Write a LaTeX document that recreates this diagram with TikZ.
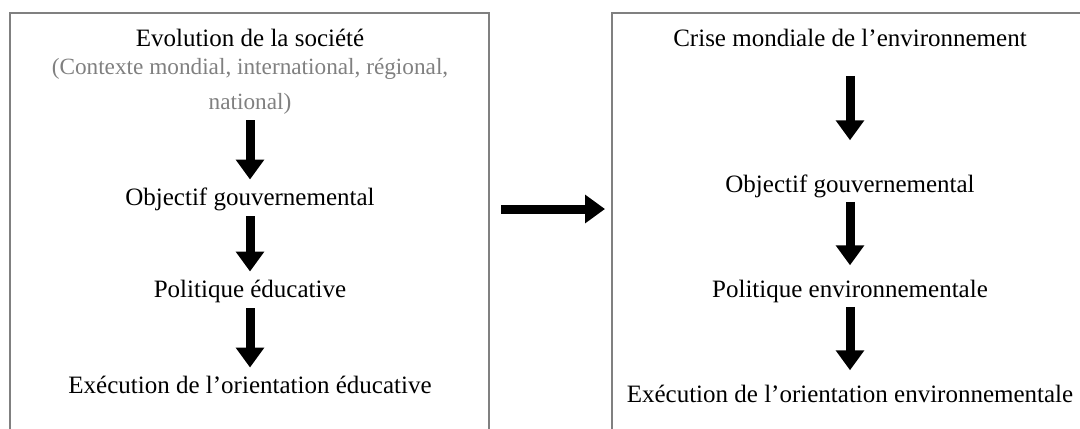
\documentclass[tikz,border=0pt]{standalone}
\usepackage{fontspec}
\setmainfont{Liberation Serif}
\usetikzlibrary{arrows.meta}

\begin{document}
\begin{tikzpicture}[x=0.4pt, y=-0.4pt, semithick,
    frame/.style = {draw=black!50, line width=0.8pt},
    bigarrow/.style = {line width=3.6pt, shorten <=0.5pt, shorten >=1.5pt,
                       -{Triangle[width=11pt, length=8pt]}}]
    \useasboundingbox (0,0) rectangle (1080,428);
    \draw[frame] (10,440) |- (489,13) -- (489,440);
    \draw[frame] (612,440) |- (1090,13);
    \begin{scope}[every node/.style = {align=center, inner sep=0pt, font=\fontsize{10}{12}\selectfont}]
      \node (society) at (250, 40)  {\strut Evolution de la société};
      \node[text=black!50, font=\fontsize{9.3}{12}\selectfont] (context) at (250, 85.5)
        {\strut(Contexte mondial, international, régional,\\[2pt]\strut national)};
      \node (goalL)   at (250, 199) {\strut Objectif gouvernemental};
      \node (policyL) at (250, 291) {\strut Politique éducative};
      \node (execL)   at (250, 387) {\strut Exécution de l’orientation éducative};
      \node (crisis)  at (850, 40)  {\strut Crise mondiale de l’environnement};
      \node (goalR)   at (850, 186) {\strut Objectif gouvernemental};
      \node (policyR) at (850, 291) {\strut Politique environnementale};
      \node (execR)   at (850, 396) {\strut Exécution de l’orientation environnementale};
    \end{scope}
    \coordinate (leftout) at (501, 209);
    \coordinate (rightin) at (605, 209);
    \draw[bigarrow] (context) -- (goalL);
    \draw[bigarrow] (goalL)   -- (policyL);
    \draw[bigarrow] (policyL) -- (execL);
    \draw[bigarrow, shorten <=8pt, shorten >=12pt] (crisis) -- (goalR);
    \draw[bigarrow, shorten <=0pt, shorten >=4pt]  (goalR)   -- (policyR);
    \draw[bigarrow, shorten <=0pt, shorten >=4pt]  (policyR) -- (execR);
    \draw[bigarrow, shorten <=0pt, shorten >=0pt]  (leftout) -- (rightin);
\end{tikzpicture}
\end{document}
